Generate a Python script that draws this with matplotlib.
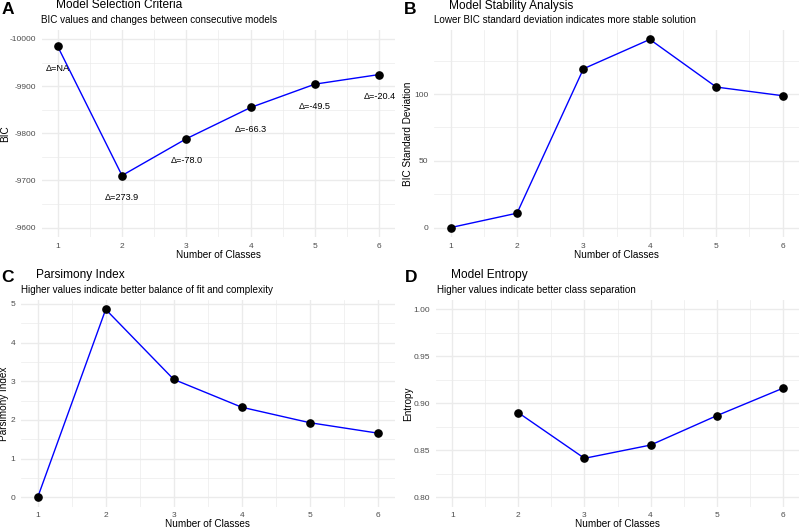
import numpy as np
import matplotlib
matplotlib.use("Agg")
import matplotlib.pyplot as plt
from matplotlib.ticker import MultipleLocator, FormatStrFormatter

plt.rcParams['font.family'] = ['Liberation Sans', 'DejaVu Sans']
plt.rcParams['axes.unicode_minus'] = False

# --- data ---
classes = [1, 2, 3, 4, 5, 6]
bic = [-9984.3, -9710.4, -9788.4, -9854.7, -9904.2, -9924.6]
bic_delta = ["NA", "273.9", "-78.0", "-66.3", "-49.5", "-20.4"]
bic_sd = [0.0, 10.8, 119.0, 141.0, 105.3, 98.8]
parsimony = [0.0, 4.86, 3.05, 2.33, 1.93, 1.66]
entropy = [np.nan, 0.890, 0.8415, 0.8556, 0.8868, 0.916]

W, H = 800, 529
fig = plt.figure(figsize=(W / 100, H / 100), dpi=100)
fig.patch.set_facecolor("white")

GRID_MAJ = "#EBEBEB"
TICK_COL = "#4D4D4D"


def make_ax(left, right, top, bottom, xlab_y, ylab_x, ylabel):
    ax = fig.add_axes([left / W, 1 - bottom / H, (right - left) / W, (bottom - top) / H])
    for s in ax.spines.values():
        s.set_visible(False)
    ax.set_xlim(0.75, 6.25)
    ax.xaxis.set_major_locator(MultipleLocator(1))
    ax.xaxis.set_minor_locator(MultipleLocator(0.5))
    ax.grid(which="major", color=GRID_MAJ, linewidth=1.0)
    ax.grid(which="minor", color=GRID_MAJ, linewidth=0.5)
    ax.tick_params(which="both", length=0, labelsize=6, labelcolor=TICK_COL, pad=4)
    ax.set_axisbelow(True)
    ax.set_xlabel("Number of Classes", fontsize=7.2, va="center")
    ax.xaxis.set_label_coords(0.5, -(xlab_y - bottom) / (bottom - top))
    ax.set_ylabel(ylabel, fontsize=7.2, va="center")
    ax.yaxis.set_label_coords(-(left - ylab_x) / (right - left), 0.5)
    return ax


def draw(ax, y):
    ax.plot(classes, y, color="#0000FF", linewidth=1.0, zorder=2)
    ax.plot(classes, y, "o", color="black", markersize=5.2, zorder=3)


def heading(x_tag, y_tag, tag, x_title, y_title, title, x_sub, y_sub, subtitle):
    fig.text(x_tag / W, 1 - y_tag / H, tag, fontsize=12.5, fontweight="bold", va="center", ha="left")
    fig.text(x_title / W, 1 - y_title / H, title, fontsize=8.6, va="center", ha="left")
    fig.text(x_sub / W, 1 - y_sub / H, subtitle, fontsize=7.1, va="center", ha="left")


# A: BIC
axA = make_ax(41.6, 395.4, 30, 237, 255, 5, "BIC")
draw(axA, bic)
axA.set_ylim(-9580, -10019)
axA.yaxis.set_major_locator(MultipleLocator(100))
axA.yaxis.set_minor_locator(MultipleLocator(50))
for xv, yv, d in zip(classes, bic, bic_delta):
    axA.annotate("\u0394=" + d, (xv, yv), xytext=(0, -22), textcoords="offset pixels",
                 ha="center", va="center", fontsize=6.6)
heading(1.5, 10, "A", 56, 5.5, "Model Selection Criteria", 41, 20,
        "BIC values and changes between consecutive models")

# B: BIC standard deviation
axB = make_ax(434, 799.3, 30, 237, 255, 408, "BIC Standard Deviation")
draw(axB, bic_sd)
lo, hi = min(bic_sd), max(bic_sd)
pad = (hi - lo) * 0.05
axB.set_ylim(lo - pad, hi + pad)
axB.yaxis.set_major_locator(MultipleLocator(50))
axB.yaxis.set_minor_locator(MultipleLocator(25))
heading(404, 10, "B", 449, 5.5, "Model Stability Analysis", 434, 20,
        "Lower BIC standard deviation indicates more stable solution")

# C: parsimony
axC = make_ax(20.7, 394.7, 300, 506.7, 524, 4, "Parsimony Index")
draw(axC, parsimony)
lo, hi = min(parsimony), max(parsimony)
pad = (hi - lo) * 0.05
axC.set_ylim(lo - pad, hi + pad)
axC.yaxis.set_major_locator(MultipleLocator(1))
axC.yaxis.set_minor_locator(MultipleLocator(0.5))
heading(1.5, 278, "C", 36, 275, "Parsimony Index", 21, 290,
        "Higher values indicate better balance of fit and complexity")

# D: entropy
axD = make_ax(435.8, 799.2, 300, 506.7, 524, 408, "Entropy")
draw(axD, entropy)
axD.set_ylim(0.79, 1.01)
axD.yaxis.set_major_locator(MultipleLocator(0.05))
axD.yaxis.set_minor_locator(MultipleLocator(0.025))
axD.yaxis.set_major_formatter(FormatStrFormatter("%.2f"))
heading(405, 277, "D", 451.5, 275, "Model Entropy", 437, 290,
        "Higher values indicate better class separation")

fig.savefig("out.png", dpi=100, facecolor="white")
